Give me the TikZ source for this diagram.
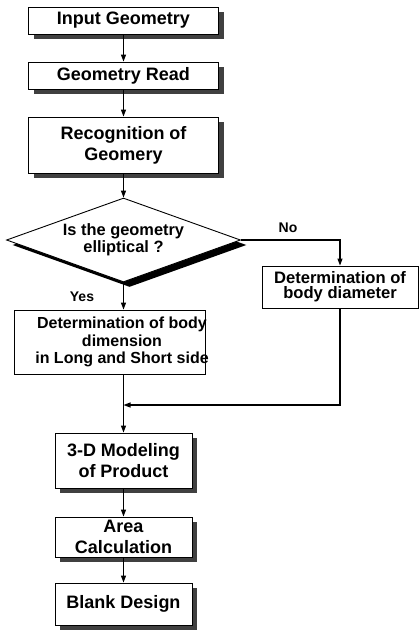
\documentclass[tikz,border=0pt]{standalone}
\usepackage{fontspec}
\setmainfont{Liberation Sans}
\usetikzlibrary{shapes.geometric,shadows,arrows.meta}
\begin{document}
\begin{tikzpicture}[x=1pt,y=-1pt,
  box/.style={draw, line width=0.9pt, fill=white, inner sep=0pt, align=center, font=\bfseries\fontsize{18}{21}\selectfont},
  shad/.style={drop shadow={shadow xshift=5pt, shadow yshift=-5pt, fill=black!75, opacity=1}},
  arr/.style={line width=1.1pt, -{Triangle[length=7pt,width=5pt]}},
  conn/.style={line width=1.1pt},
  lbl/.style={font=\bfseries\fontsize{14}{16}\selectfont, inner sep=0pt}]
\useasboundingbox (0,0) rectangle (419,630);
\node[box, shad, minimum width=190pt, minimum height=27pt] (b1) at (123.5,20.5) {Input Geometry};
\node[box, shad, minimum width=190pt, minimum height=27pt] (b2) at (123.5,75.5) {Geometry Read};
\node[box, shad, minimum width=190pt, minimum height=56pt] (b3) at (123.5,145) {Recognition of\\Geomery};
\node[diamond, draw, line width=0.9pt, fill=white, minimum width=234pt, minimum height=84pt, inner sep=0pt, aspect=2.8, align=center, font=\bfseries\fontsize{16.4}{17}\selectfont, drop shadow={shadow xshift=6pt, shadow yshift=-5pt, fill=black, opacity=1}] (d) at (123.5,240) {Is the geometry\\elliptical ?};
\node[box, font=\bfseries\fontsize{16.6}{15}\selectfont, minimum width=156pt, minimum height=42pt] (r) at (340,287) {Determination of\\body diameter};
\node[box, minimum width=191pt, minimum height=64pt] (l) at (109.5,342) {};
\node[font=\bfseries\fontsize{16}{17.5}\selectfont, align=center, inner sep=0pt] (lt) at (122,342) {Determination of body\\dimension\\in Long and Short side};
\node[box, shad, minimum width=137pt, minimum height=55pt] (p3) at (123.5,460.5) {3-D Modeling\\of Product};
\node[box, shad, minimum width=137pt, minimum height=40pt] (p4) at (123.5,537) {Area\\Calculation};
\node[box, shad, minimum width=137pt, minimum height=42pt] (p5) at (123.5,604) {Blank Design};
\node[lbl] (no) at (288,228) {No};
\node[lbl] (yes) at (82,297) {Yes};
\coordinate (m) at (123.5,405);
\draw[arr] (b1.south) -- (b2.north);
\draw[arr] (b2.south) -- (b3.north);
\draw[arr] (b3.south) -- (d.north);
\draw[arr] (d.south) -- (d.south |- l.north);
\draw[arr] (d.east) -- (r.north |- d.east) -- (r.north);
\draw[arr] (r.south) |- (m);
\draw[arr] (m |- l.south) -- (p3.north);
\draw[arr] (p3.south) -- (p4.north);
\draw[arr] (p4.south) -- (p5.north);
\end{tikzpicture}
\end{document}
